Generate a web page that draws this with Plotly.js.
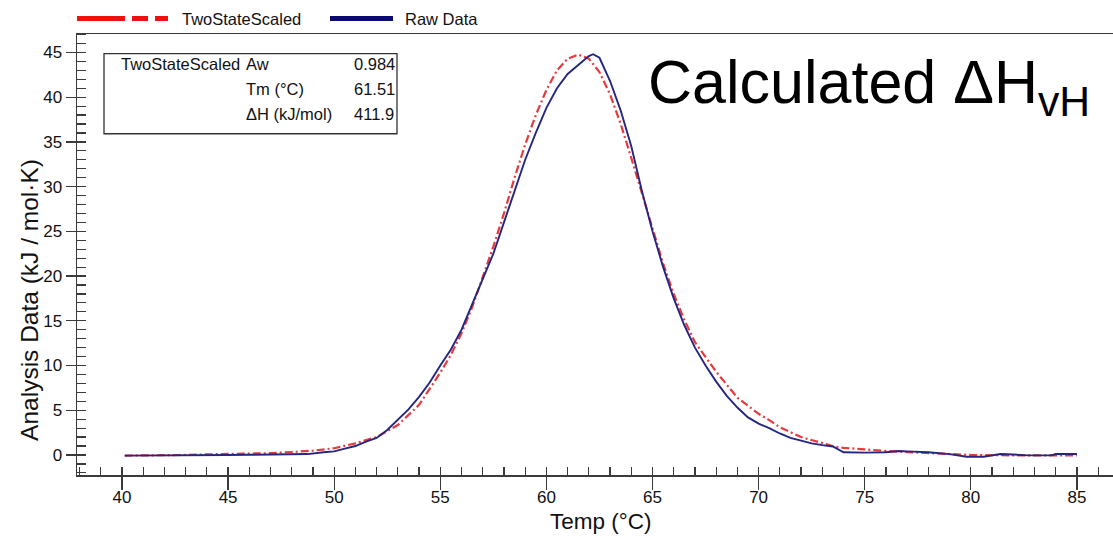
<!DOCTYPE html>
<html><head><meta charset="utf-8">
<script src="https://cdn.plot.ly/plotly-3.0.1.min.js"></script>
<style>html,body{margin:0;padding:0;background:#fff}</style>
</head><body><div id="chart" style="width:1113px;height:538px"></div>
<script>
// ---- data ----
const rawTemp = [40.13,41,42,43,44,45,46,47,48,48.75,49.5,50,50.5,51,51.5,52,52.5,53,53.5,54,54.5,55,55.5,56,56.5,57,57.5,58,58.5,59,59.5,60,60.5,61,61.5,62,62.2,62.5,63,63.5,64,64.5,65,65.5,66,66.5,67,67.5,68,68.5,69,69.5,70,70.5,71,71.5,72,72.5,73,73.5,74,74.5,75,76,76.6,77,78,79,79.8,80.6,81.4,82,82.7,83.8,84,85];
const rawValue = [-0.07,-0.07,-0.07,-0.07,-0.05,0,0.02,0.05,0.08,0.1,0.3,0.4,0.7,1.0,1.5,1.9,2.8,4.0,5.1,6.5,8.1,10.0,11.8,14.0,16.8,19.5,22.5,26.0,29.5,33.0,36.0,38.8,41.0,42.6,43.6,44.6,44.8,44.4,41.8,38.5,34.5,29.5,25.0,21.0,17.5,14.5,12.0,10.0,8.2,6.6,5.3,4.2,3.5,3.0,2.4,1.9,1.6,1.3,1.1,0.95,0.3,0.26,0.26,0.3,0.45,0.4,0.3,0.1,-0.2,-0.2,0.1,0.05,-0.05,-0.05,0.1,0.1];
const fitTemp = [40.13,42,43,44,45,46,47,48,49,50,51,52,53,54,55,55.5,56,56.5,57,57.5,58,58.5,59,59.5,60,60.5,61,61.5,62,62.5,63,63.5,64,64.5,65,65.5,66,66.5,67,67.5,68,69,70,70.5,71,72,73,73.6,74,75,76,77,78,79,80,81,82,83,84,85];
const fitValue = [-0.07,-0.06,0,0.07,0.1,0.15,0.2,0.33,0.48,0.75,1.3,2.0,3.35,5.6,9.2,11.2,13.6,16.5,19.8,23.3,27.0,31.0,34.7,38.0,40.8,43.0,44.3,44.75,44.3,42.8,40.3,37.0,33.2,29.2,25.2,21.4,18.0,15.1,12.6,10.9,9.3,6.4,4.6,3.9,3.1,2.0,1.3,0.93,0.8,0.6,0.45,0.32,0.2,0.08,0,-0.03,-0.05,-0.06,-0.06,-0.06];
const seriesNames = ["TwoStateScaled", "Raw Data"];
const boxLabels = ["Aw", "Tm (°C)", "ΔH (kJ/mol)"];
const boxValues = ["0.984", "61.51", "411.9"];

// ---- layout helpers (plot area in pixels) ----
const W = 1113, H = 538, L = 77, T = 34.3, B = 475;
const PW = W - L, PH = B - T;
const px = x => (x - L) / PW;
const py = y => (B - y) / PH;
const FONT = "Liberation Sans, Arial, sans-serif";

const traces = [
  {x: fitTemp, y: fitValue, type: 'scatter', mode: 'lines', name: seriesNames[0], showlegend: false,
   line: {color: '#e53b3e', width: 2.2, dash: '8px,3px,2px,3px'}, xaxis: 'x', yaxis: 'y'},
  {x: rawTemp, y: rawValue, type: 'scatter', mode: 'lines', name: seriesNames[1], showlegend: false,
   line: {color: '#26267f', width: 1.9}, xaxis: 'x', yaxis: 'y'},
  {x: [null], y: [null], type: 'scatter', mode: 'lines', name: seriesNames[0], legend: 'legend',
   line: {color: '#ee1111', width: 5, dash: '48px,7px,16px,7px,13px,300px'}},
  {x: [null], y: [null], type: 'scatter', mode: 'lines', name: seriesNames[1], legend: 'legend2',
   line: {color: '#0a0a70', width: 5, dash: '63px,300px'}}
];

const xr = [37.88, 86.70], yr = [-2.24, 47.06];
const axLine = '#3a3a3a';
const annotations = [
  {text: 'Temp (°C)', xref: 'paper', yref: 'paper', x: px(601), y: py(521), xanchor: 'center', yanchor: 'middle',
   showarrow: false, font: {family: FONT, size: 22.5, color: '#111'}},
  {text: 'Analysis Data (kJ / mol·K)', xref: 'paper', yref: 'paper', x: px(30), y: py(300), xanchor: 'center',
   yanchor: 'middle', showarrow: false, textangle: -90, font: {family: FONT, size: 24.5, color: '#111'}},
  {text: 'Calculated ΔH<sub>vH</sub>', xref: 'paper', yref: 'paper', x: px(646), y: py(87), xanchor: 'left',
   yanchor: 'middle', showarrow: false, font: {family: FONT, size: 61, color: '#000'}},
  {text: seriesNames[0], xref: 'paper', yref: 'paper', x: px(119), y: py(64), xanchor: 'left', yanchor: 'middle',
   showarrow: false, font: {family: FONT, size: 16.5, color: '#111'}}
];
const rowsY = [64, 89, 114];
boxLabels.forEach((t, i) => {
  annotations.push({text: t, xref: 'paper', yref: 'paper', x: px(244), y: py(rowsY[i]), xanchor: 'left',
    yanchor: 'middle', showarrow: false, font: {family: FONT, size: 16.5, color: '#111'}});
  annotations.push({text: boxValues[i], xref: 'paper', yref: 'paper', x: px(352), y: py(rowsY[i]), xanchor: 'left',
    yanchor: 'middle', showarrow: false, font: {family: FONT, size: 16.5, color: '#111'}});
});

const layout = {
  width: W, height: H, margin: {l: L, r: 0, t: T, b: H - B, pad: 0},
  paper_bgcolor: '#fff', plot_bgcolor: '#fff',
  font: {family: FONT, size: 17, color: '#111'},
  xaxis: {range: xr, showgrid: false, zeroline: false, showline: true, linecolor: axLine, linewidth: 1.5, mirror: true,
    tickmode: 'linear', tick0: 0, dtick: 5, ticks: 'outside', ticklen: 13, tickwidth: 1.3, tickcolor: axLine,
    ticklabelstandoff: -7, tickfont: {family: FONT, size: 17, color: '#111'},
    minor: {tickmode: 'linear', tick0: 0, dtick: 1, ticks: 'inside', ticklen: 8, tickwidth: 1.2, tickcolor: axLine, showgrid: false}},
  xaxis2: {range: xr, overlaying: 'x', showgrid: false, zeroline: false, showline: false, showticklabels: false,
    tickmode: 'linear', tick0: 0, dtick: 5, ticks: 'inside', ticklen: 8, tickwidth: 1.3, tickcolor: axLine},
  yaxis: {range: yr, showgrid: false, zeroline: false, showline: true, linecolor: axLine, linewidth: 1.5,
    tickmode: 'linear', tick0: 0, dtick: 5, ticks: 'outside', ticklen: 10, tickwidth: 1.3, tickcolor: axLine,
    ticklabelstandoff: 0, tickfont: {family: FONT, size: 17, color: '#111'},
    minor: {tickmode: 'linear', tick0: 0, dtick: 1, ticks: 'inside', ticklen: 9, tickwidth: 1.2, tickcolor: axLine, showgrid: false}},
  yaxis2: {range: yr, overlaying: 'y', showgrid: false, zeroline: false, showline: false, showticklabels: false,
    tickmode: 'linear', tick0: 0, dtick: 5, ticks: 'inside', ticklen: 9, tickwidth: 1.3, tickcolor: axLine},
  legend: {orientation: 'h', x: px(72), y: py(19), xanchor: 'left', yanchor: 'middle', itemwidth: 100,
    font: {family: FONT, size: 16.5, color: '#111'}, bgcolor: 'rgba(0,0,0,0)', tracegroupgap: 0},
  legend2: {orientation: 'h', x: px(325), y: py(19), xanchor: 'left', yanchor: 'middle', itemwidth: 70,
    font: {family: FONT, size: 16.5, color: '#111'}, bgcolor: 'rgba(0,0,0,0)'},
  shapes: [{type: 'rect', xref: 'paper', yref: 'paper', x0: px(104), x1: px(397), y0: py(54), y1: py(134),
    line: {color: '#333', width: 1.3}, fillcolor: 'rgba(255,255,255,0)'}],
  annotations: annotations
};
// dummy trace to activate overlay axes
traces.push({x: [null], y: [null], xaxis: 'x2', yaxis: 'y2', type: 'scatter', showlegend: false, hoverinfo: 'skip'});
Plotly.newPlot('chart', traces, layout, {displayModeBar: false, staticPlot: true});
</script></body></html>
